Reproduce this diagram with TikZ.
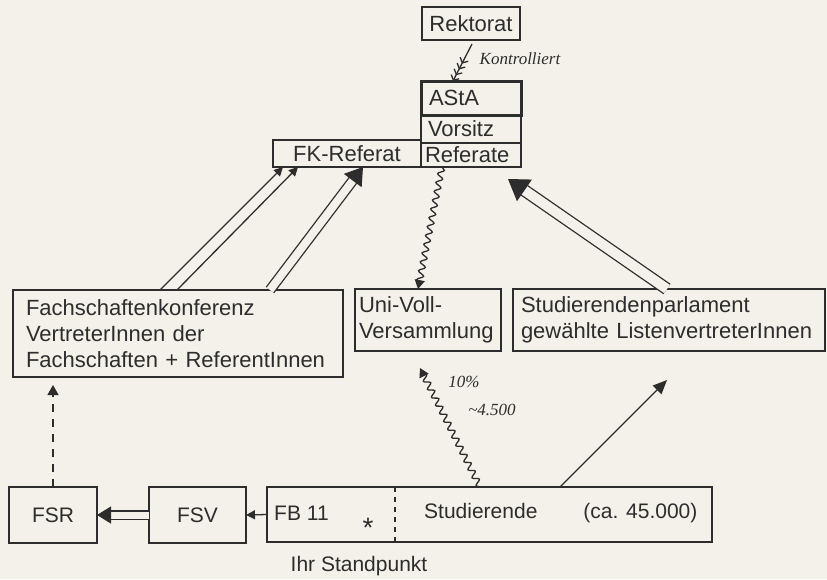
\documentclass[tikz,border=0pt]{standalone}
\usepackage{fontspec}
\setmainfont{Liberation Sans}
\newfontfamily\handfont{Liberation Serif}
\usetikzlibrary{arrows.meta,decorations.pathmorphing,calc}
\definecolor{paper}{RGB}{243,241,233}
\definecolor{ink}{RGB}{45,45,45}
\begin{document}
\begin{tikzpicture}[x=1pt,y=-1pt,
  box/.style={draw=ink, line width=1.4pt, text=ink, font=\fontsize{22}{26}\selectfont, inner sep=0pt, outer sep=0pt},
  lbox/.style={box, align=left},
  thin/.style={draw=ink, line width=1.3pt},
  smallhead/.style={thin, -{Triangle[length=9pt,width=9pt]}},
  dblarrow/.style={draw=ink, double=paper, double distance=8pt, line width=1.3pt},
  wavy/.style={thin, decorate, decoration={snake, amplitude=3pt, segment length=9pt, post length=6pt}},
  hand/.style={text=ink, font=\handfont\itshape\fontsize{17}{19}\selectfont, inner sep=0pt}
]
\fill[paper] (0,0) rectangle (827,579);
\useasboundingbox (0,0) rectangle (827,579);

% top
\node[box, minimum width=98pt, minimum height=33pt] (rek) at (471,23.5) {Rektorat};
\node[lbox, line width=3pt, minimum height=34pt, text width=84pt, inner xsep=8pt] (asta) at (471,98) {AStA};
\node[lbox, minimum height=28pt, text width=86pt, inner xsep=7pt] (vor) at (471,129) {Vorsitz};
\node[lbox, minimum height=24pt, text width=92pt, inner xsep=4pt] (ref) at (471,155) {Referate};
\node[box, minimum width=148pt, minimum height=27pt] (fkr) at (347,153.5) {FK-Referat};

% middle
\node[lbox, minimum height=87pt, text width=304pt, inner xsep=13pt] (fkk) at (178,333.5)
  {Fachschaftenkonferenz\\VertreterInnen der\\Fachschaften + ReferentInnen};
\node[lbox, minimum height=62pt, text width=138pt, inner xsep=4pt] (uv) at (428,320)
  {Uni-Voll-\\Versammlung};
\node[lbox, minimum height=62pt, text width=296pt, inner xsep=8pt] (sp) at (669,320)
  {Studierendenparlament\\gewählte ListenvertreterInnen};

% bottom
\node[box, font=\fontsize{21}{25}\selectfont, minimum width=88pt, minimum height=56pt] (fsr) at (53,515) {FSR};
\node[box, font=\fontsize{21}{25}\selectfont, minimum width=97pt, minimum height=56pt] (fsv) at (197.5,515) {FSV};
\node[box, minimum width=445pt, minimum height=55pt] (stud) at (489.5,514.5) {};
\node[text=ink, font=\fontsize{21}{25}\selectfont, inner sep=0pt, anchor=west] (fb) at (274,513) {FB 11};
\node[text=ink, font=\fontsize{21}{25}\selectfont, inner sep=0pt, anchor=west] (studt) at (424,513) {Studierende\hspace{46pt}(ca. 45.000)};
\node[text=ink, font=\fontsize{28}{30}\selectfont, inner sep=0pt] (star) at (368,528) {*};
\node[text=ink, font=\fontsize{21}{25}\selectfont, inner sep=0pt] (stand) at (359,566) {Ihr Standpunkt};
\draw[thin, dash pattern=on 5pt off 5pt] (395,0 |- stud.north) -- (395,0 |- stud.south);

% annotations
\node[hand] (kontr) at (520,59) {Kontrolliert};
\node[hand] (pct) at (464,382) {10\%};
\node[hand] (num) at (492,410) {\char"7E 4.500};

% coordinates for free ends
\coordinate (uvtip) at (420,368);
\coordinate (sptip) at (667,380);
\coordinate (reftip) at (508,179);

% connectors
\draw[thin, -{Straight Barb[length=4pt,width=9pt,sep=1pt] Straight Barb[length=4pt,width=9pt,sep=1pt] Straight Barb[length=4pt,width=9pt,sep=1pt] Straight Barb[length=4pt,width=9pt]}]
  (472,0 |- rek.south) ++(0,4) -- (453,0 |- asta.north);

\draw[smallhead] (160,0 |- fkk.north) -- (283,0 |- fkr.south);
\draw[smallhead] (177,0 |- fkk.north) -- (298,0 |- fkr.south);
\draw[dblarrow, -{Triangle[length=17pt,width=22pt]}] (270,0 |- fkk.north) -- (363,0 |- fkr.south);
\draw[dblarrow, double distance=10pt, -{Triangle[length=20pt,width=26pt]}] (667,0 |- sp.north) -- (reftip);
\draw[wavy, -{Triangle[length=9pt,width=10pt]}] (442,0 |- ref.south) -- (418,0 |- uv.north);
\draw[wavy, -{Triangle[length=9pt,width=10pt]}] (480,0 |- stud.north) -- (uvtip);
\draw[smallhead, -{Triangle[length=14pt,width=12pt]}] (560,0 |- stud.north) -- (sptip);
\draw[dblarrow, double distance=7pt, -{Triangle[length=14pt,width=17pt]}] (fsv.west) -- (fsr.east);
\draw[smallhead] (stud.west) -- (fsv.east);
\draw[thin, dash pattern=on 8pt off 7pt, -{Triangle[length=10pt,width=11pt]}, shorten >=8pt] (fsr.north) -- (fsr.north |- fkk.south);
\end{tikzpicture}
\end{document}
